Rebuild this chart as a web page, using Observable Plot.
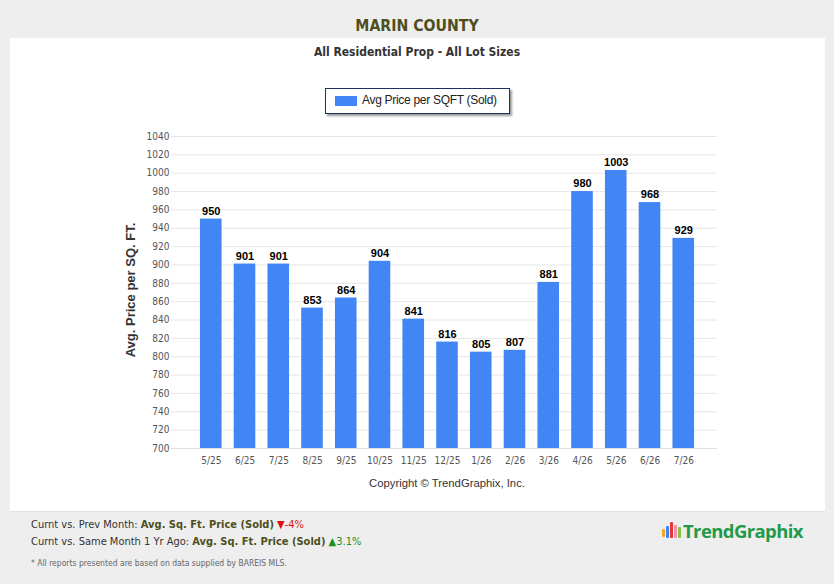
<!DOCTYPE html>
<html><head><meta charset="utf-8">
<script src="https://cdn.jsdelivr.net/npm/d3@7"></script>
<script src="https://cdn.jsdelivr.net/npm/@observablehq/plot@0.6"></script>
<style>
body{margin:0;background:#eeeeee;overflow:hidden;font-family:"DejaVu Sans Condensed","DejaVu Sans",sans-serif;}
#wrap{position:relative;width:834px;height:584px;}
.abs{position:absolute;white-space:nowrap;}
#panel{left:10px;top:38px;width:815px;height:473px;background:#fff;border-bottom:1px solid #e2e2e2;}
#title{left:0;width:834px;top:16px;text-align:center;font-weight:bold;font-size:15.7px;color:#4d4f1d;}
#subtitle{left:0;width:834px;top:45px;text-align:center;font-weight:bold;font-size:12px;color:#333;}
#legend{left:325px;top:88px;width:183px;height:24px;border:1px solid #1f3060;background:#fff;box-shadow:2px 2px 2px #9a9a9a;font-family:"Liberation Sans",Arial,sans-serif;font-size:12px;color:#222;}
#legend .sw{position:absolute;left:9px;top:7px;width:22px;height:10px;background:#4285f4;}
#legend .tx{position:absolute;left:36px;top:4px;letter-spacing:-0.3px;}
#chart{left:0;top:120px;}
#ylab{left:56px;top:282px;width:150px;height:16px;text-align:center;transform:rotate(-90deg);font-family:"Liberation Sans",Arial,sans-serif;font-weight:bold;font-size:13px;color:#333;line-height:16px;}
#copy{left:0;width:894px;top:477px;text-align:center;font-family:"Liberation Sans",Arial,sans-serif;font-size:11.3px;color:#333;}
.cmp{left:31px;font-size:11px;color:#333;}
.cmp b{color:#4d4f1d;}
.dn{color:#e01010;}
.up{color:#1e8f1e;}
#foot{left:31px;top:558px;font-size:8.5px;color:#666;}
#logo{left:662px;top:518px;height:26px;}
#logo .word{position:absolute;left:21px;top:0px;font-family:"Open Sans","DejaVu Sans",sans-serif;font-weight:bold;font-size:18.5px;color:#1f9a47;letter-spacing:-0.6px;}
#logo .b{position:absolute;width:3px;border-radius:1px;}
</style></head>
<body><div id="wrap">
<div id="panel" class="abs"></div>
<div id="title" class="abs">MARIN COUNTY</div>
<div id="subtitle" class="abs">All Residential Prop - All Lot Sizes</div>
<div id="legend" class="abs"><span class="sw"></span><span class="tx">Avg Price per SQFT (Sold)</span></div>
<div id="chart" class="abs"></div>
<div id="ylab" class="abs"></div>
<div id="copy" class="abs">Copyright © TrendGraphix, Inc.</div>
<div class="abs cmp" style="top:518px">Curnt vs. Prev Month: <b>Avg. Sq. Ft. Price (Sold)</b> <span class="dn">▼-4%</span></div>
<div class="abs cmp" style="top:535px">Curnt vs. Same Month 1 Yr Ago: <b>Avg. Sq. Ft. Price (Sold)</b> <span class="up">▲3.1%</span></div>
<div id="foot" class="abs">* All reports presented are based on data supplied by BAREIS MLS.</div>
<div id="logo" class="abs">
  <span class="b" style="left:0px;top:11px;height:8px;background:#f5a623"></span>
  <span class="b" style="left:4px;top:8px;height:12px;background:#3b82f6"></span>
  <span class="b" style="left:8px;top:4px;height:16px;background:#e53935"></span>
  <span class="b" style="left:12px;top:7px;height:13px;background:#f48fb1"></span>
  <span class="b" style="left:16px;top:9px;height:11px;background:#8bc34a"></span>
  <span class="word">TrendGraphix</span>
</div>
</div>
<script>
const months = ["5/25","6/25","7/25","8/25","9/25","10/25","11/25","12/25","1/26","2/26","3/26","4/26","5/26","6/26","7/26"];
const pricePerSqft = [950,901,901,853,864,904,841,816,805,807,881,980,1003,968,929];
const yTicks = [700,720,740,760,780,800,820,840,860,880,900,920,940,960,980,1000,1020,1040];
const yLabel = "Avg. Price per SQ. FT.";

document.getElementById("ylab").textContent = yLabel;

const data = months.map((m, i) => ({month: m, value: pricePerSqft[i]}));

const chart = Plot.plot({
  width: 834,
  height: 380,
  marginLeft: 171,
  marginRight: 117,
  marginTop: 16,
  marginBottom: 52,
  style: {background: "transparent", fontFamily: "'DejaVu Sans Condensed','DejaVu Sans',sans-serif"},
  x: {domain: months, range: [177, 717], round: false, paddingInner: 0.36, paddingOuter: 0.68, label: null},
  y: {domain: [700, 1040], clamp: true, label: null},
  marks: [
    Plot.gridY(yTicks, {stroke: "#e6e6e6", strokeOpacity: 1}),
    Plot.barY(data, {x: "month", y: "value", fill: "#4285f4"}),
    Plot.text(data, {x: "month", y: "value", text: d => String(d.value), dy: -8, fontWeight: "bold", fontSize: 11, fill: "#000", fontFamily: "'Liberation Sans',Arial,sans-serif"}),
    Plot.ruleY([700], {stroke: "#e0e0e0"}),
    Plot.axisY(yTicks, {tickSize: 0, tickPadding: 2, fontSize: 10, fill: "#555", label: null, tickFormat: d => String(d)}),
    Plot.axisX({tickSize: 0, tickPadding: 8, fontSize: 10, fill: "#555", label: null})
  ]
});
document.getElementById("chart").appendChild(chart);
</script>
</body></html>
